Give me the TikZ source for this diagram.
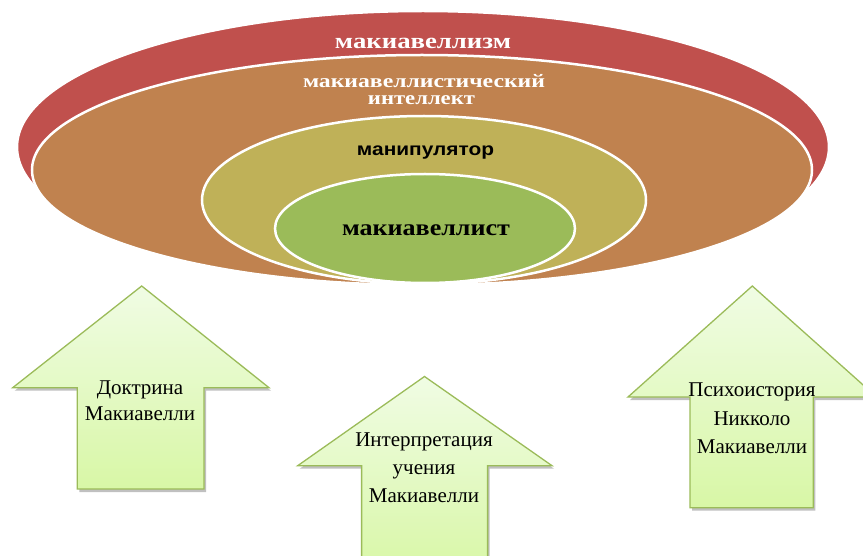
\documentclass[tikz,border=0pt]{standalone}
\usepackage{fontspec}
\setmainfont{Liberation Serif}
\newfontfamily\sansfam{Liberation Sans}
\definecolor{cred}{HTML}{C0504D}
\definecolor{corange}{HTML}{C0824F}
\definecolor{colive}{HTML}{BFB158}
\definecolor{cgreen}{HTML}{9BBB59}
\definecolor{agreen}{HTML}{9BBB59}
\definecolor{atop}{HTML}{F0FCE4}
\definecolor{abot}{HTML}{D8F7A6}
\begin{document}
\begin{tikzpicture}[x=1pt,y=-1pt,
  ring/.style={draw=white, line width=2.5pt},
  arrowshape/.style={draw=agreen, line width=1.3pt, line join=miter, top color=atop, bottom color=abot},
  ashadow/.style={fill=black!45, opacity=0.55},
  lbl/.style={anchor=base, inner sep=0pt},
  atext/.style={lbl, font=\fontsize{21}{21}\selectfont}]
\useasboundingbox (0,0) rectangle (863,556);
\clip (0,0) rectangle (863,556);
% ellipses
\path[ring, fill=cred] (423,147) ellipse [x radius=406pt, y radius=136pt];
\path[ring, fill=corange] (422,170) ellipse [x radius=390pt, y radius=115pt];
\path[ring, fill=colive] (424,200) ellipse [x radius=222pt, y radius=84pt];
\path[ring, fill=cgreen] (425,228.5) ellipse [x radius=150pt, y radius=54.5pt];
% arrow shadows
\fill[ashadow, shift={(2,3)}] (141.7,286) -- (269,387.7) -- (204,387.7) -- (204,489) -- (77.3,489) -- (77.3,387.7) -- (12.7,387.7) -- cycle;
\fill[ashadow, shift={(2,3)}] (424.5,376.5) -- (552,465.7) -- (487.6,465.7) -- (487.6,575) -- (361.6,575) -- (361.6,465.7) -- (297.7,465.7) -- cycle;
\fill[ashadow, shift={(2,3)}] (752.3,286) -- (876.6,397) -- (813.3,397) -- (813.3,507.7) -- (690,507.7) -- (690,397) -- (628,397) -- cycle;
% arrows
\path[arrowshape] (141.7,286) -- (269,387.7) -- (204,387.7) -- (204,489) -- (77.3,489) -- (77.3,387.7) -- (12.7,387.7) -- cycle;
\path[arrowshape] (424.5,376.5) -- (552,465.7) -- (487.6,465.7) -- (487.6,575) -- (361.6,575) -- (361.6,465.7) -- (297.7,465.7) -- cycle;
\path[arrowshape] (752.3,286) -- (876.6,397) -- (813.3,397) -- (813.3,507.7) -- (690,507.7) -- (690,397) -- (628,397) -- cycle;
% ellipse labels
\node[lbl, text=white] (t1) at (423,49) {\resizebox{176pt}{\height}{\fontsize{22}{22}\selectfont\bfseries макиавеллизм}};
\node[lbl, text=white] (t2a) at (424,88) {\resizebox{242pt}{\height}{\fontsize{19}{19}\selectfont\bfseries макиавеллистический}};
\node[lbl, text=white] (t2b) at (421.5,105) {\resizebox{107pt}{\height}{\fontsize{19}{19}\selectfont\bfseries интеллект}};
\node[lbl, text=black] (t3) at (425.5,156) {\resizebox{137pt}{\height}{\sansfam\fontsize{18}{18}\selectfont\bfseries манипулятор}};
\node[lbl, text=black] (t4) at (426,236) {\resizebox{168pt}{\height}{\fontsize{23}{23}\selectfont\bfseries макиавеллист}};
% arrow labels
\node[atext] (a1a) at (140,394.5) {Доктрина};
\node[atext] (a1b) at (140,420) {Макиавелли};
\node[atext] (a2a) at (424,446.7) {Интерпретация};
\node[atext] (a2b) at (424,474) {учения};
\node[atext] (a2c) at (424,502) {Макиавелли};
\node[atext] (a3a) at (752,396.7) {Психоистория};
\node[atext] (a3b) at (752,425.7) {Никколо};
\node[atext] (a3c) at (752,453.3) {Макиавелли};
\end{tikzpicture}
\end{document}
